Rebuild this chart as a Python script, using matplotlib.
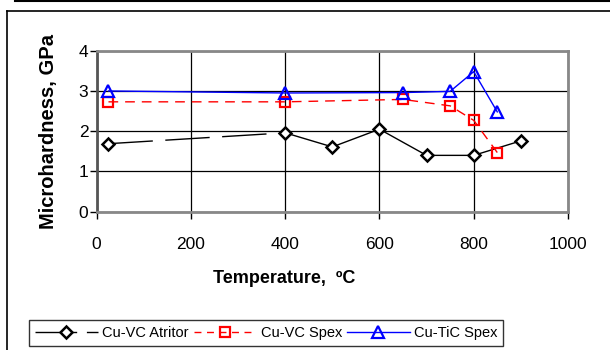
import numpy as np
import matplotlib
matplotlib.use('Agg')
from matplotlib import pyplot as plt
from matplotlib.lines import Line2D

plt.rcParams['font.family'] = ['Liberation Sans', 'DejaVu Sans']

# data
temp_atritor = [25, 400, 500, 600, 700, 800, 900]
hv_atritor = [1.69, 1.96, 1.61, 2.05, 1.40, 1.40, 1.76]

temp_vc_spex = [25, 400, 650, 750, 800, 850]
hv_vc_spex = [2.73, 2.73, 2.79, 2.63, 2.27, 1.47]

temp_tic_spex = [25, 400, 650, 750, 800, 850]
hv_tic_spex = [3.0, 2.95, 2.96, 2.99, 3.48, 2.48]

labels = ['Cu-VC Atritor', 'Cu-VC Spex', 'Cu-TiC Spex']
xticks = [0, 200, 400, 600, 800, 1000]
yticks = [0, 1, 2, 3, 4]


def main():
    fig = plt.figure(figsize=(6.1, 3.5), dpi=100)
    ax = fig.add_axes([0.1585, 0.3951, 0.7726, 0.46])

    # black series: excel long dash shows only on the long first segment
    ax.plot(temp_atritor[:2], hv_atritor[:2], color='black', lw=1, dashes=(32, 9), zorder=3)
    ax.plot(temp_atritor[1:], hv_atritor[1:], color='black', lw=1, zorder=3)
    ax.plot(temp_atritor, hv_atritor, ls='none', marker='D', ms=6.5, mew=1.8,
            mfc='white', mec='black', zorder=4)

    ax.plot(temp_vc_spex, hv_vc_spex, color='red', lw=1, dashes=(7, 5),
            marker='s', ms=7.5, mew=1.6, mfc='none', mec='red', zorder=5)
    ax.plot(temp_tic_spex, hv_tic_spex, color='blue', lw=1,
            marker='^', ms=9, mew=1.6, mfc='none', mec='blue', zorder=6)

    ax.set_xlim(0, 1000)
    ax.set_ylim(0, 4)
    ax.set_xticks(xticks)
    ax.set_yticks(yticks)
    ax.grid(True, color='black', lw=0.9)
    ax.set_axisbelow(True)
    for s in ax.spines.values():
        s.set_color('#888888')
        s.set_linewidth(2)
    ax.spines['left'].set_color('#555555')
    ax.tick_params(axis='both', labelsize=12.5, length=5, width=1, color='black', direction='out')
    ax.tick_params(axis='x', pad=13)
    ax.tick_params(axis='y', pad=1)

    ax.set_xlabel('Temperature,  ºC', fontsize=13, fontweight='bold')
    ax.set_ylabel('Microhardness, GPa', fontsize=14.5, fontweight='bold')
    ax.xaxis.set_label_coords(0.397, -0.362)
    ax.yaxis.set_label_coords(-0.082, 0.5)

    handles = [
        Line2D([], [], color='black', lw=1, dashes=(30, 7), marker='D', ms=6, mew=1.8,
               mfc='white', mec='black'),
        Line2D([], [], color='red', lw=1, dashes=(5, 4), marker='s', ms=7, mew=1.6,
               mfc='none', mec='red'),
        Line2D([], [], color='blue', lw=1, marker='^', ms=8.5, mew=1.6,
               mfc='none', mec='blue'),
    ]
    leg = fig.legend(handles, labels, loc='center left', bbox_to_anchor=(29 / 610, 1 - 333 / 350),
                     ncol=3, fontsize=10.5, frameon=True, fancybox=False, edgecolor='black',
                     handlelength=4.3, handletextpad=0.3, columnspacing=0.35,
                     borderpad=0.4, borderaxespad=0)
    leg.get_frame().set_linewidth(1)

    # page frame around the chart
    fig.add_artist(Line2D([15 / 610, 1], [1 - 1 / 350, 1 - 1 / 350], color='black', lw=1.5))
    fig.add_artist(Line2D([7 / 610, 1], [1 - 11 / 350, 1 - 11 / 350], color='black', lw=1.2))
    fig.add_artist(Line2D([7 / 610, 7 / 610], [0, 1 - 11 / 350], color='black', lw=1.2))

    plt.savefig('out.png', dpi=100)


if __name__ == '__main__':
    main()
